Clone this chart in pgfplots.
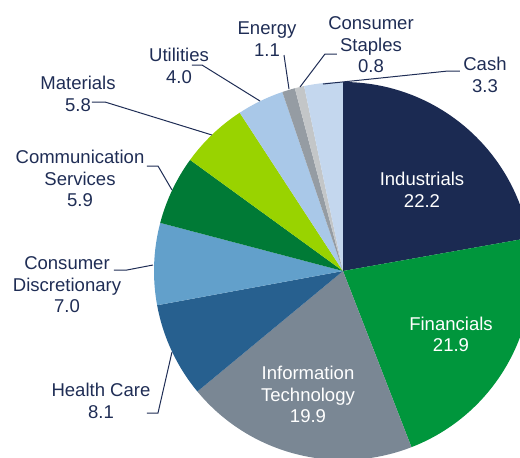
\documentclass[border=0pt]{standalone}
\usepackage{pgfplots}
\usepackage{pgfplotstable}
\pgfplotsset{compat=1.18}
\usepackage{fontspec}
\setmainfont{Liberation Sans}
\definecolor{cInd}{HTML}{1B2A52}
\definecolor{cFin}{HTML}{00963C}
\definecolor{cIT}{HTML}{7A8794}
\definecolor{cHC}{HTML}{27608F}
\definecolor{cCD}{HTML}{62A0CB}
\definecolor{cCS}{HTML}{007A36}
\definecolor{cMat}{HTML}{99D300}
\definecolor{cUtil}{HTML}{A9C8E8}
\definecolor{cEn}{HTML}{959CA3}
\definecolor{cStap}{HTML}{C3C6C8}
\definecolor{cCash}{HTML}{C4D7EE}
\definecolor{textc}{HTML}{1F2D55}
\tikzset{lbl/.style={font=\fontsize{9.3}{10.8}\selectfont, align=center, inner sep=0pt}}
\pgfplotstableread{
name value color
Industrials 22.2 cInd
Financials 21.9 cFin
InformationTechnology 19.9 cIT
HealthCare 8.1 cHC
ConsumerDiscretionary 7.0 cCD
CommunicationServices 5.9 cCS
Materials 5.8 cMat
Utilities 4.0 cUtil
Energy 1.1 cEn
ConsumerStaples 0.8 cStap
Cash 3.3 cCash
}\sectors
\begin{document}
\begin{tikzpicture}
\useasboundingbox (0,0) rectangle (260bp,229bp);
\begin{axis}[
  at={(0,0)}, anchor=south west,
  x=0.5bp, y=0.5bp, y dir=reverse,
  xmin=0, xmax=520, ymin=0, ymax=458,
  hide axis, clip=true,
]
\def\cum{0}
\pgfplotsforeachungrouped \i in {0,...,10}{%
  \pgfplotstablegetelem{\i}{value}\of\sectors \let\v=\pgfplotsretval
  \pgfplotstablegetelem{\i}{color}\of\sectors \let\c=\pgfplotsretval
  \pgfmathsetmacro\a{90-3.6*\cum}%
  \pgfmathsetmacro\b{90-3.6*(\cum+\v)}%
  \pgfmathsetmacro\cum{\cum+\v}%
  \edef\temp{\noexpand\fill[\c] (axis cs:343,271) -- ++(\a:94.5bp) arc[start angle=\a, end angle=\b, radius=94.5bp] -- cycle;}%
  \temp
}
% inside labels
\node[lbl, text=white] at (axis cs:422,190) {Industrials\\22.2};
\node[lbl, text=white] at (axis cs:451,334.5) {Financials\\21.9};
\node[lbl, text=white] at (axis cs:308,394.5) {Information\\Technology\\19.9};
% outside labels
\node[lbl, text=textc] at (axis cs:179,66) {Utilities\\4.0};
\node[lbl, text=textc] at (axis cs:78,94) {Materials\\5.8};
\node[lbl, text=textc] at (axis cs:80,178.5) {Communication\\Services\\5.9};
\node[lbl, text=textc] at (axis cs:67,285) {Consumer\\Discretionary\\7.0};
\node[lbl, text=textc] at (axis cs:101,401) {Health Care\\8.1};
\node[lbl, text=textc] at (axis cs:267,39) {Energy\\1.1};
\node[lbl, text=textc] at (axis cs:371,45) {Consumer\\Staples\\0.8};
\node[lbl, text=textc] at (axis cs:485,75) {Cash\\3.3};
% leader lines
\begin{scope}[draw=textc, line width=0.5bp]
\draw (axis cs:192,65) -- (axis cs:202,65) -- (axis cs:260,101);
\draw (axis cs:92,102) -- (axis cs:105,102) -- (axis cs:212,135);
\draw (axis cs:147,166) -- (axis cs:158,166) -- (axis cs:172,190);
\draw (axis cs:114,270) -- (axis cs:127,270) -- (axis cs:153,265);
\draw (axis cs:147,413) -- (axis cs:158,413) -- (axis cs:172,352);
\draw (axis cs:284,55) -- (axis cs:289,89);
\draw (axis cs:337,54) -- (axis cs:325,54) -- (axis cs:300,87);
\draw (axis cs:460,71) -- (axis cs:448,71) -- (axis cs:323,84);
\end{scope}
\end{axis}
\end{tikzpicture}
\end{document}
